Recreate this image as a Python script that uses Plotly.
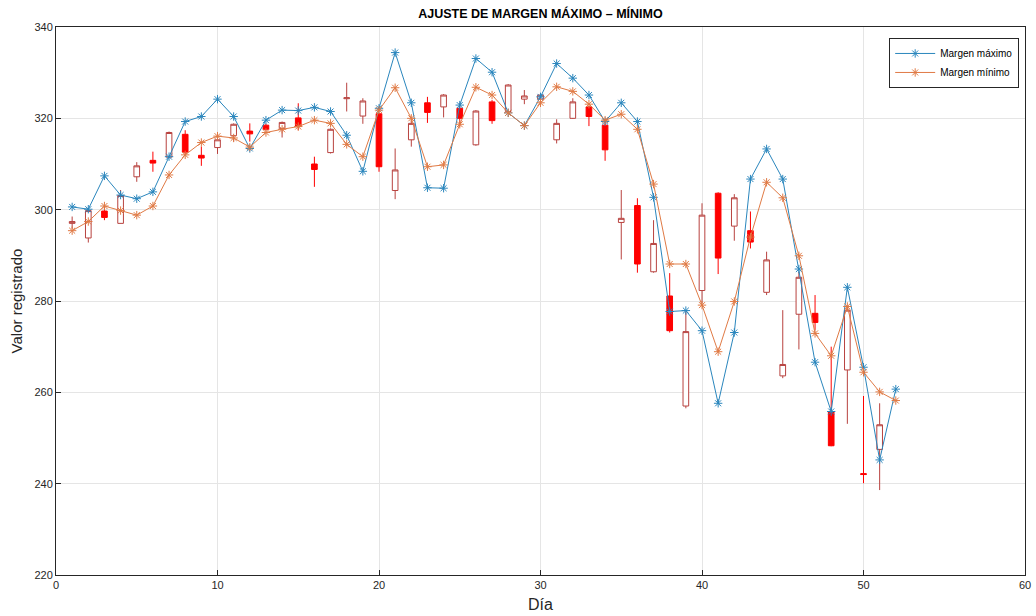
import plotly.graph_objects as go

days_line = list(range(1, 53))
margen_max = [300.6, 300.1, 307.4, 303.2, 302.4, 303.9, 311.6, 319.3, 320.4, 324.2,
              320.4, 313.4, 319.6, 321.8, 321.7, 322.4, 321.5, 316.3, 308.4, 322.2,
              334.4, 323.4, 304.8, 304.7, 322.9, 333.1, 330.1, 321.2, 318.4, 324.7,
              332.0, 328.8, 325.1, 319.3, 323.4, 319.3, 302.7, 277.7, 277.9, 273.5,
              257.6, 273.1, 306.7, 313.3, 306.7, 287.0, 266.6, 255.8, 283.0, 265.5,
              245.2, 260.7]
margen_min = [295.4, 297.4, 300.8, 299.8, 298.8, 300.8, 307.6, 312.0, 314.7, 316.1,
              315.7, 313.7, 316.9, 317.6, 318.2, 319.6, 318.9, 314.3, 311.6, 321.8,
              326.7, 320.0, 309.4, 309.8, 318.7, 326.8, 325.1, 321.2, 318.4, 323.4,
              326.9, 325.9, 323.1, 319.6, 320.9, 317.6, 305.6, 288.1, 288.1, 279.1,
              268.9, 279.9, 294.0, 306.0, 302.6, 289.9, 272.9, 268.0, 278.8, 264.4,
              260.1, 258.2]

days_candle = list(range(1, 52))
open_ = [297.0, 293.8, 299.7, 297.0, 307.2, 310.8, 311.5, 316.5, 311.9, 313.6,
         316.2, 317.2, 318.5, 317.8, 320.1, 310.0, 312.5, 324.3, 320.5, 321.0,
         304.2, 315.3, 323.4, 322.5, 322.2, 314.2, 323.6, 321.5, 324.2, 324.2,
         315.3, 320.0, 322.5, 318.5, 297.2, 300.9, 286.4, 281.1, 257.0, 282.3,
         303.6, 296.4, 295.4, 281.9, 263.6, 277.1, 277.3, 255.8, 264.9, 242.2,
         247.5]
high = [298.5, 300.0, 301.0, 304.3, 310.4, 312.7, 317.1, 317.4, 313.8, 315.5,
        318.9, 318.9, 318.8, 319.3, 323.3, 311.6, 317.8, 327.8, 324.4, 321.2,
        313.4, 319.6, 324.7, 325.3, 323.3, 321.8, 324.0, 327.5, 326.2, 325.4,
        319.8, 324.4, 322.7, 319.7, 304.3, 302.5, 297.7, 286.1, 277.7, 301.4,
        303.8, 303.4, 299.6, 290.8, 278.0, 286.4, 281.3, 270.0, 278.6, 259.2,
        257.6]
low = [295.8, 292.8, 297.7, 297.0, 306.1, 308.3, 311.3, 312.0, 309.6, 312.2,
       314.9, 314.9, 317.3, 315.8, 317.4, 305.0, 312.3, 321.5, 318.8, 308.3,
       302.3, 313.8, 319.0, 320.2, 318.2, 314.0, 318.8, 321.3, 323.1, 323.8,
       314.5, 319.9, 318.3, 310.7, 289.1, 286.2, 286.2, 273.1, 256.5, 279.5,
       285.9, 293.2, 291.5, 281.3, 263.1, 269.4, 273.7, 248.2, 253.1, 240.1,
       238.6]
close = [297.4, 299.8, 298.3, 303.1, 309.6, 310.2, 316.9, 312.6, 311.3, 315.3,
         318.7, 316.6, 317.6, 319.1, 318.2, 308.8, 317.6, 324.5, 323.8, 309.4,
         308.7, 318.9, 321.3, 325.1, 320.0, 321.6, 319.5, 327.3, 324.9, 325.1,
         318.9, 323.6, 320.4, 313.1, 298.1, 288.1, 292.6, 273.5, 273.3, 298.8,
         289.4, 302.6, 292.9, 289.0, 266.1, 285.2, 275.3, 248.3, 278.0, 242.0,
         252.9]

x_ticks = [0, 10, 20, 30, 40, 50, 60]
y_ticks = [220, 240, 260, 280, 300, 320, 340]

FONT = "Liberation Sans, Arial, sans-serif"
AX = "#262626"

fig = go.Figure()
fig.add_trace(go.Candlestick(
    x=days_candle, open=open_, high=high, low=low, close=close,
    increasing=dict(line=dict(color="#b8423f", width=1), fillcolor="white"),
    decreasing=dict(line=dict(color="#ff0000", width=1), fillcolor="#ff0000"),
    showlegend=False, hoverinfo="skip"))
fig.add_trace(go.Scatter(
    x=days_line, y=margen_max, mode="lines+markers", name="Margen máximo",
    line=dict(color="#2a86bd", width=1),
    marker=dict(symbol="asterisk-open", size=7, color="#2a86bd",
                line=dict(color="#2a86bd", width=1))))
fig.add_trace(go.Scatter(
    x=days_line, y=margen_min, mode="lines+markers", name="Margen mínimo",
    line=dict(color="#e07a45", width=1),
    marker=dict(symbol="asterisk-open", size=7, color="#e07a45",
                line=dict(color="#e07a45", width=1))))

axis_common = dict(
    showgrid=True, gridcolor="#e5e5e5", gridwidth=1,
    showline=True, linecolor=AX, linewidth=1, mirror=True,
    ticks="inside", ticklen=5, tickcolor=AX,
    tickfont=dict(family=FONT, size=11, color=AX),
    zeroline=False, automargin=False,
)

fig.update_layout(
    width=1036, height=616,
    margin=dict(l=56, r=11, t=27, b=41),
    paper_bgcolor="white", plot_bgcolor="white",
    boxgap=0.5,
    title=dict(text="<b>AJUSTE DE MARGEN MÁXIMO – MÍNIMO</b>",
               x=0.5217, xanchor="center", xref="container",
               y=1 - 14 / 616, yanchor="middle", yref="container",
               font=dict(family=FONT, size=12.5, color="black")),
    xaxis=dict(range=[0, 60], tickvals=x_ticks, rangeslider=dict(visible=False),
               title=dict(text="Día", font=dict(family=FONT, size=16, color=AX), standoff=8),
               **axis_common),
    yaxis=dict(range=[220, 340], tickvals=y_ticks,
               title=dict(text="Valor registrado", font=dict(family=FONT, size=15, color=AX), standoff=8),
               **axis_common),
    legend=dict(x=0.994, xanchor="right", y=0.98, yanchor="top",
                bgcolor="white", bordercolor=AX, borderwidth=1,
                font=dict(family=FONT, size=10, color="black"),
                itemwidth=40, tracegroupgap=0),
    showlegend=True,
)

fig.write_html("out.html", config={"displayModeBar": False},
               post_script="document.body.style.margin='0';document.body.style.overflow='hidden';")
